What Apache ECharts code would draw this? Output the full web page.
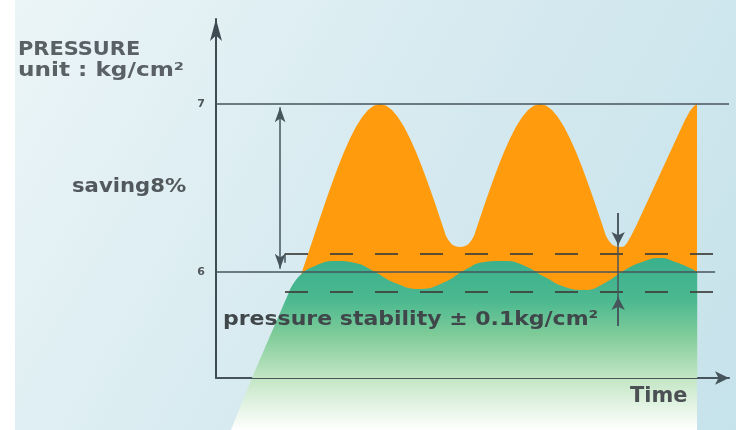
<!DOCTYPE html>
<html>
<head>
<meta charset="utf-8">
<script src="https://cdn.jsdelivr.net/npm/echarts@6/dist/echarts.min.js"></script>
<style>
html,body{margin:0;padding:0;background:#fff;}
#chart{width:736px;height:430px;}
</style>
</head>
<body>
<div id="chart"></div>
<script>
// ---- data ----
const timeRange = [0, 100];
const pressureRange = [5.369, 7.506];
const yTickLabels = [6, 7];

const timeOrange = [15.79,16.76,17.93,19.10,20.27,21.44,22.61,23.78,24.95,26.12,27.29,28.46,29.63,30.80,31.97,33.14,34.31,35.48,36.65,37.82,38.99,40.16,41.33,42.50,43.66,44.83,45.42,46.00,46.78,47.56,48.34,49.12,49.71,50.29,51.46,52.63,53.80,54.97,56.14,57.31,58.48,59.65,60.82,61.99,63.16,64.33,65.50,66.67,67.84,69.01,70.18,71.35,72.51,73.68,74.85,76.02,76.61,77.19,77.97,78.75,79.53,80.12,80.90,82.07,83.24,84.41,85.58,86.74,87.91,89.08,90.25,91.42,92.40,93.18,93.76];
const pressureOrange = [5.923,6.000,6.107,6.214,6.321,6.427,6.529,6.625,6.714,6.795,6.864,6.921,6.964,6.991,7.0,6.991,6.964,6.921,6.864,6.795,6.714,6.625,6.529,6.427,6.321,6.214,6.185,6.164,6.152,6.149,6.152,6.164,6.185,6.214,6.321,6.427,6.529,6.625,6.714,6.795,6.864,6.921,6.964,6.991,7.0,6.991,6.964,6.921,6.864,6.795,6.714,6.625,6.529,6.427,6.321,6.214,6.185,6.164,6.152,6.149,6.152,6.173,6.214,6.286,6.363,6.440,6.518,6.595,6.673,6.750,6.827,6.905,6.958,6.988,7.0];

const timeGreen = [14.4,16.4,19.3,23.2,27.1,31.0,34.9,39.8,44.6,48.5,52.4,56.3,60.2,64.1,68.0,71.9,75.8,79.7,83.6,86.5,89.5,92.4,93.8];
const pressureGreen = [5.893,5.98,6.036,6.065,6.054,6.0,5.935,5.899,5.94,6.012,6.06,6.065,6.036,5.97,5.911,5.893,5.935,6.012,6.065,6.083,6.06,6.024,6.0];

const timeWedge = [7.0, 14.4, 16.4];
const pressureWedge = [5.369, 5.893, 5.98];

const referenceLevels = [7, 6];
const referenceEnds = [100, 97.3];
const stabilityBand = [6.11, 5.885];
const bandStart = 13.45, bandEnd = 97.3;
const savingTime = 12.5, savingSpan = [6.98, 6.02];
const stabilityTime = 78.4, stabilityLine = [6.351, 5.679], stabilityArrowTips = [6.161, 5.851];

// ---- helpers ----
const pairs = (xs, ys) => xs.map((x, i) => [x, ys[i]]);
const greenStops = [
  {offset: 0, color: '#39b08c'},
  {offset: 0.25, color: '#4cb990'},
  {offset: 0.45, color: '#80cc99'},
  {offset: 0.7, color: '#c3e6c4'},
  {offset: 1, color: '#ffffff'}
];
const greenFill = new echarts.graphic.LinearGradient(0, 258, 0, 430, greenStops, true);
const lineColor = '#46545b';
const font = (s) => 'bold ' + s + 'px "DejaVu Sans"';

const chart = echarts.init(document.getElementById('chart'), null, {renderer: 'canvas'});

const markLines = [];
referenceLevels.forEach((v, i) => {
  markLines.push([{coord: [timeRange[0], v], lineStyle: {color: lineColor, width: 1.6, type: 'solid'}}, {coord: [referenceEnds[i], v]}]);
});
stabilityBand.forEach(v => {
  markLines.push([{coord: [bandStart, v], lineStyle: {color: 'rgba(62,62,58,0.85)', width: 2.2, type: [23, 22]}}, {coord: [bandEnd, v]}]);
});
markLines.push([{coord: [bandStart, stabilityBand[0]], lineStyle: {color: lineColor, width: 1.5, type: 'solid'}}, {coord: [bandStart, 6.055]}]);
markLines.push([{coord: [savingTime, savingSpan[0]], symbol: 'arrow', symbolSize: [8, 15], lineStyle: {color: lineColor, width: 1.5, type: 'solid'}},
                {coord: [savingTime, savingSpan[1]], symbol: 'arrow', symbolSize: [8, 15]}]);
markLines.push([{coord: [stabilityTime, stabilityLine[0]], lineStyle: {color: lineColor, width: 1.5, type: 'solid'}}, {coord: [stabilityTime, stabilityLine[1]]}]);
markLines.push([{coord: [stabilityTime, stabilityLine[0]], symbol: 'none', lineStyle: {color: lineColor, width: 1.5, type: 'solid'}},
                {coord: [stabilityTime, stabilityArrowTips[0]], symbol: 'arrow', symbolSize: [10, 13]}]);
markLines.push([{coord: [stabilityTime, stabilityLine[1]], symbol: 'none', lineStyle: {color: lineColor, width: 1.5, type: 'solid'}},
                {coord: [stabilityTime, stabilityArrowTips[1]], symbol: 'arrow', symbolSize: [10, 13]}]);

const option = {
  animation: false,
  backgroundColor: '#ffffff',
  grid: {left: 216, right: 7, top: 19, bottom: 52, containLabel: false, outerBoundsMode: 'none'},
  xAxis: {
    type: 'value', min: timeRange[0], max: timeRange[1],
    axisLine: {show: true, symbol: ['none', 'arrow'], symbolSize: [10, 14], lineStyle: {color: '#46545b', width: 2}},
    axisTick: {show: false}, axisLabel: {show: false}, splitLine: {show: false}
  },
  yAxis: {
    type: 'value', min: pressureRange[0], max: pressureRange[1],
    axisLine: {show: true, symbol: ['none', 'arrow'], symbolSize: [9, 22], lineStyle: {color: '#3f4b52', width: 2}},
    axisTick: {show: false}, splitLine: {show: false},
    axisLabel: {customValues: yTickLabels, color: '#4f575b', fontSize: 11, fontWeight: 'bold', margin: 11, fontFamily: 'DejaVu Sans'}
  },
  graphic: [
    {type: 'rect', z: -20, silent: true, shape: {x: 0, y: 0, width: 736, height: 430},
     style: {fill: new echarts.graphic.LinearGradient(0, 0, 1, 1, [{offset: 0, color: '#ecf5f7'}, {offset: 0.5, color: '#d6eaf0'}, {offset: 1, color: '#c6e2ea'}])}},
    {type: 'rect', z: -19, silent: true, shape: {x: 0, y: 0, width: 15, height: 430}, style: {fill: '#ffffff'}},
    {type: 'polygon', z: -18, silent: true, shape: {points: [[252, 378], [697, 378], [697, 430], [231, 430]]}, style: {fill: greenFill}},
    {type: 'text', z: 100, x: 18, y: 50, scaleX: 1.1, style: {text: 'PRESSURE', fill: '#5a6164', font: font(19), align: 'left', verticalAlign: 'middle'}},
    {type: 'text', z: 100, x: 18, y: 71, scaleX: 1.22, style: {text: 'unit : kg/cm²', fill: '#5a6164', font: font(19), align: 'left', verticalAlign: 'middle'}},
    {type: 'text', z: 100, x: 72, y: 187, scaleX: 1.06, style: {text: 'saving8%', fill: '#52595c', font: font(20), align: 'left', verticalAlign: 'middle'}},
    {type: 'text', z: 100, x: 223, y: 320, scaleX: 1.1, style: {text: 'pressure stability ± 0.1kg/cm²', fill: '#40474a', font: font(20), align: 'left', verticalAlign: 'middle'}},
    {type: 'text', z: 100, x: 630, y: 396, scaleX: 0.95, style: {text: 'Time', fill: '#4a5053', font: font(22), align: 'left', verticalAlign: 'middle'}}
  ],
  series: [
    {
      name: 'without control', type: 'line', z: 2, data: pairs(timeOrange, pressureOrange),
      smooth: false, symbol: 'none', silent: true,
      lineStyle: {width: 0}, areaStyle: {color: '#ff9b0c', opacity: 1, origin: 'start'}
    },
    {
      name: 'edge', type: 'line', z: 3, data: pairs(timeWedge, pressureWedge),
      smooth: false, symbol: 'none', silent: true,
      lineStyle: {width: 0}, areaStyle: {color: greenFill, opacity: 1, origin: 'start'}
    },
    {
      name: 'with control', type: 'line', z: 3, data: pairs(timeGreen, pressureGreen),
      smooth: 0.5, symbol: 'none', silent: true,
      lineStyle: {width: 0}, areaStyle: {color: greenFill, opacity: 1, origin: 'start'},
      markLine: {silent: true, symbol: 'none', label: {show: false}, animation: false, data: markLines}
    }
  ]
};
chart.setOption(option);
</script>
</body>
</html>
